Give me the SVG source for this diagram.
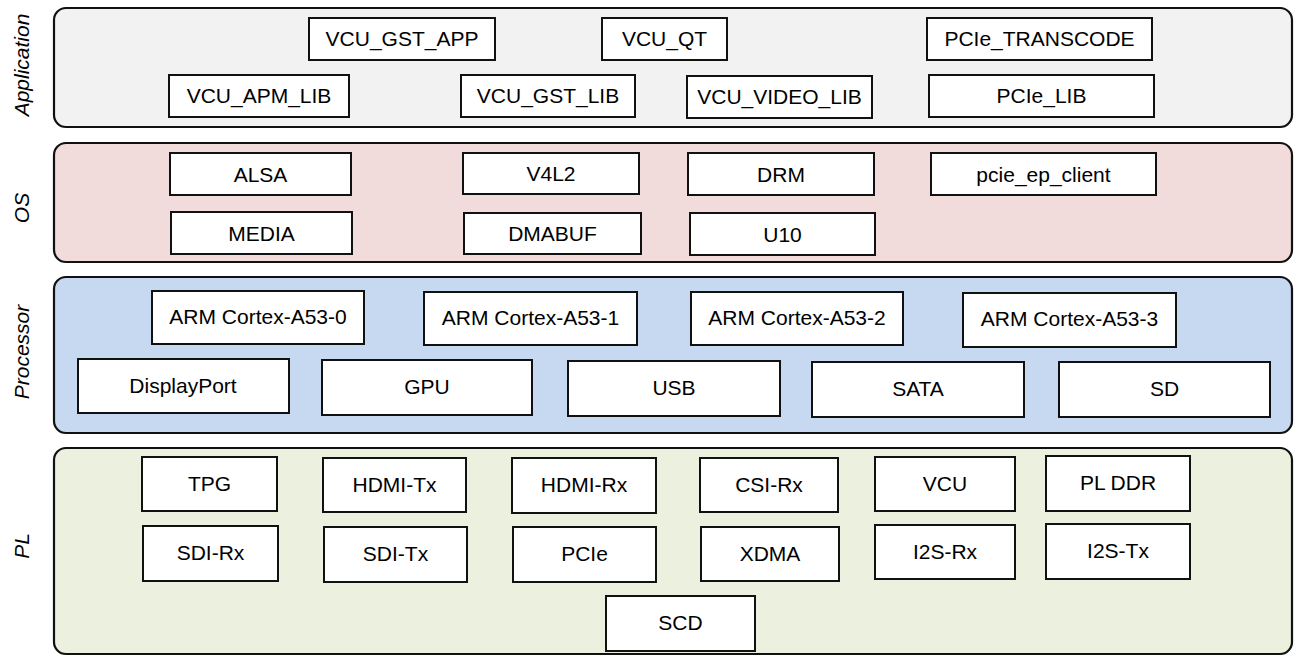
<svg xmlns="http://www.w3.org/2000/svg" width="1296" height="656" viewBox="0 0 1296 656">
<style>
.panel{stroke:#111;stroke-width:2.2}
.app{fill:#f2f2f2}.os{fill:#f2dcdb}.proc{fill:#c6d9f0}.pl{fill:#ebf1de}
.box{fill:#ffffff;stroke:#111;stroke-width:2}
.t{font-family:"Liberation Sans",Arial,sans-serif;font-size:21px;fill:#000;text-anchor:middle}
.lbl{font-family:"Liberation Sans",Arial,sans-serif;font-size:21px;font-style:italic;fill:#000;text-anchor:middle}
</style>
<g id="layers">
<g id="layer-application"><rect class="panel app" x="54" y="8" width="1238" height="119" rx="12"/><text class="lbl" transform="translate(29,65) rotate(-90)">Application</text></g>
<g id="layer-os"><rect class="panel os" x="54" y="143" width="1238" height="119" rx="12"/><text class="lbl" transform="translate(29,208) rotate(-90)">OS</text></g>
<g id="layer-processor"><rect class="panel proc" x="54" y="277" width="1238" height="156" rx="12"/><text class="lbl" transform="translate(29,352) rotate(-90)">Processor</text></g>
<g id="layer-pl"><rect class="panel pl" x="54" y="448" width="1238" height="206" rx="12"/><text class="lbl" transform="translate(29,546) rotate(-90)">PL</text></g>
</g>
<g id="connectors"/>
<g id="n-vcu-gst-app"><rect class="box" x="309" y="18" width="186" height="42"/><text class="t" x="402" y="46">VCU_GST_APP</text></g>
<g id="n-vcu-qt"><rect class="box" x="602" y="18" width="125" height="42"/><text class="t" x="664.5" y="46">VCU_QT</text></g>
<g id="n-pcie-transcode"><rect class="box" x="927" y="18" width="225" height="42"/><text class="t" x="1039.5" y="46">PCIe_TRANSCODE</text></g>
<g id="n-vcu-apm-lib"><rect class="box" x="169" y="75" width="180" height="42"/><text class="t" x="259" y="103">VCU_APM_LIB</text></g>
<g id="n-vcu-gst-lib"><rect class="box" x="461" y="75" width="174" height="42"/><text class="t" x="548" y="103">VCU_GST_LIB</text></g>
<g id="n-vcu-video-lib"><rect class="box" x="687" y="76" width="185" height="42"/><text class="t" x="779.5" y="104">VCU_VIDEO_LIB</text></g>
<g id="n-pcie-lib"><rect class="box" x="929" y="75" width="225" height="42"/><text class="t" x="1041.5" y="103">PCIe_LIB</text></g>
<g id="n-alsa"><rect class="box" x="170" y="153" width="181" height="42"/><text class="t" x="260.5" y="181.5">ALSA</text></g>
<g id="n-v4l2"><rect class="box" x="463" y="153" width="176" height="41"/><text class="t" x="551" y="181">V4L2</text></g>
<g id="n-drm"><rect class="box" x="688" y="153" width="186" height="42"/><text class="t" x="781" y="181.5">DRM</text></g>
<g id="n-pcie-ep-client"><rect class="box" x="931" y="153" width="225" height="42"/><text class="t" x="1043.5" y="181.5">pcie_ep_client</text></g>
<g id="n-media"><rect class="box" x="171" y="212" width="181" height="42"/><text class="t" x="261.5" y="240.5">MEDIA</text></g>
<g id="n-dmabuf"><rect class="box" x="464" y="213" width="177" height="41"/><text class="t" x="552.5" y="241">DMABUF</text></g>
<g id="n-u10"><rect class="box" x="690" y="213" width="185" height="42"/><text class="t" x="782.5" y="241.5">U10</text></g>
<g id="n-arm0"><rect class="box" x="152" y="291" width="212" height="53"/><text class="t" x="258" y="323.5">ARM Cortex-A53-0</text></g>
<g id="n-arm1"><rect class="box" x="424" y="292" width="213" height="53"/><text class="t" x="530.5" y="324.5">ARM Cortex-A53-1</text></g>
<g id="n-arm2"><rect class="box" x="691" y="292" width="212" height="53"/><text class="t" x="797" y="324.5">ARM Cortex-A53-2</text></g>
<g id="n-arm3"><rect class="box" x="963" y="293" width="213" height="54"/><text class="t" x="1069.5" y="326">ARM Cortex-A53-3</text></g>
<g id="n-displayport"><rect class="box" x="78" y="359" width="211" height="54"/><text class="t" x="183" y="392.5">DisplayPort</text></g>
<g id="n-gpu"><rect class="box" x="322" y="360" width="210" height="55"/><text class="t" x="427" y="394">GPU</text></g>
<g id="n-usb"><rect class="box" x="568" y="361" width="212" height="55"/><text class="t" x="674" y="395">USB</text></g>
<g id="n-sata"><rect class="box" x="812" y="362" width="212" height="55"/><text class="t" x="918" y="396">SATA</text></g>
<g id="n-sd"><rect class="box" x="1059" y="362" width="211" height="55"/><text class="t" x="1164.5" y="396">SD</text></g>
<g id="n-tpg"><rect class="box" x="142" y="457" width="135" height="54"/><text class="t" x="209.5" y="490.5">TPG</text></g>
<g id="n-hdmi-tx"><rect class="box" x="323" y="458" width="143" height="54"/><text class="t" x="394.5" y="491.5">HDMI-Tx</text></g>
<g id="n-hdmi-rx"><rect class="box" x="512" y="458" width="144" height="55"/><text class="t" x="584" y="492">HDMI-Rx</text></g>
<g id="n-csi-rx"><rect class="box" x="700" y="458" width="138" height="54"/><text class="t" x="769" y="491.5">CSI-Rx</text></g>
<g id="n-vcu"><rect class="box" x="875" y="457" width="140" height="54"/><text class="t" x="945" y="490.5">VCU</text></g>
<g id="n-pl-ddr"><rect class="box" x="1046" y="456" width="144" height="55"/><text class="t" x="1118" y="490">PL DDR</text></g>
<g id="n-sdi-rx"><rect class="box" x="143" y="526" width="135" height="55"/><text class="t" x="210.5" y="560">SDI-Rx</text></g>
<g id="n-sdi-tx"><rect class="box" x="324" y="527" width="143" height="55"/><text class="t" x="395.5" y="561">SDI-Tx</text></g>
<g id="n-pcie"><rect class="box" x="513" y="527" width="143" height="55"/><text class="t" x="584.5" y="561">PCIe</text></g>
<g id="n-xdma"><rect class="box" x="701" y="527" width="138" height="54"/><text class="t" x="770" y="560.5">XDMA</text></g>
<g id="n-i2s-rx"><rect class="box" x="875" y="525" width="140" height="54"/><text class="t" x="945" y="558.5">I2S-Rx</text></g>
<g id="n-i2s-tx"><rect class="box" x="1046" y="524" width="144" height="55"/><text class="t" x="1118" y="558">I2S-Tx</text></g>
<g id="n-scd"><rect class="box" x="606" y="596" width="149" height="55"/><text class="t" x="680.5" y="630">SCD</text></g>
</svg>
